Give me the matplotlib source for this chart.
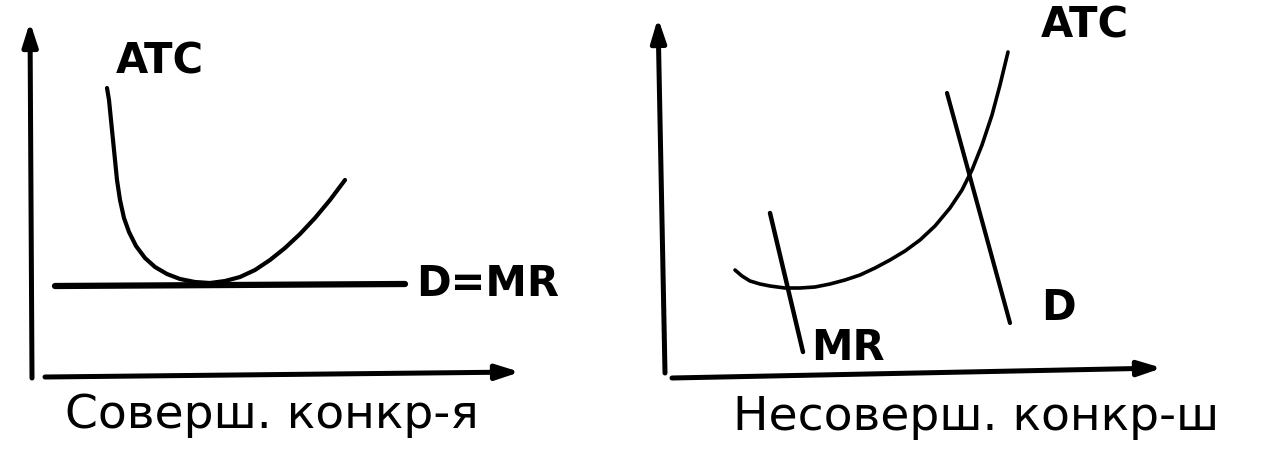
import matplotlib
matplotlib.use("Agg")
import matplotlib.pyplot as plt

# ---- data (pixel-space coordinates of the drawing) ----
# Left panel: perfect competition
left_atc_x = [107, 109, 111, 113, 115, 117, 120, 124, 129, 136, 145, 155, 167, 180, 195,
              210, 225, 240, 255, 270, 285, 300, 315, 330, 345]
left_atc_y = [88, 100, 120, 140, 160, 180, 200, 218, 232, 246, 258, 267, 274, 279, 282,
              283, 281, 277, 270, 260, 248, 234, 218, 200, 180]
left_dmr_x = [55, 405]
left_dmr_y = [286, 284]
left_yaxis = [(32, 378), (30, 22)]
left_xaxis = [(45, 377), (520, 372)]

# Right panel: imperfect competition
right_atc_x = [735, 742, 750, 760, 770, 785, 800, 815, 830, 845, 860, 875, 890, 905,
               920, 935, 950, 962, 972, 982, 992, 1000, 1008]
right_atc_y = [270, 276, 281, 284, 286, 288, 288, 287, 284, 280, 275, 268, 260, 251,
               240, 226, 208, 190, 170, 145, 115, 85, 52]
right_mr_x = [770, 803]
right_mr_y = [213, 352]
right_d_x = [947, 1010]
right_d_y = [93, 323]
right_yaxis = [(665, 373), (658, 18)]
right_xaxis = [(672, 378), (1162, 368)]

# labels: (text, x, y)
labels = [
    ("ATC", 160, 62),
    ("D=MR", 488, 284),
    ("ATC", 1085, 25),
    ("MR", 848, 348),
    ("D", 1058, 308),
]
captions = [
    ("Соверш. конкр-я", 65, 415),
    ("Несоверш. конкр-ш", 733, 418),
]

fig = plt.figure(figsize=(12.72, 4.59), dpi=100)
ax = fig.add_axes([0, 0, 1, 1])
ax.set_xlim(0, 1272)
ax.set_ylim(459, 0)
ax.axis("off")

ink = "black"

def arrow(p0, p1):
    ax.annotate("", xy=p1, xytext=p0,
                arrowprops=dict(arrowstyle="-|>,head_length=1.4,head_width=0.45",
                                lw=3.6, color=ink, shrinkA=0, shrinkB=0))

arrow(*left_yaxis)
arrow(*left_xaxis)
arrow(*right_yaxis)
arrow(*right_xaxis)

ax.plot(left_atc_x, left_atc_y, color=ink, lw=3.0, solid_capstyle="round", solid_joinstyle="round")
ax.plot(left_dmr_x, left_dmr_y, color=ink, lw=4.5, solid_capstyle="round")
ax.plot(right_atc_x, right_atc_y, color=ink, lw=2.6, solid_capstyle="round", solid_joinstyle="round")
ax.plot(right_mr_x, right_mr_y, color=ink, lw=3.2, solid_capstyle="round")
ax.plot(right_d_x, right_d_y, color=ink, lw=3.0, solid_capstyle="round")

for t, x, y in labels:
    ax.text(x, y, t, ha="center", va="center", fontsize=30, color=ink,
            fontweight="bold", family="DejaVu Sans")

for t, x, y in captions:
    ax.text(x, y, t, ha="left", va="center", fontsize=34, color=ink,
            family="DejaVu Sans")

fig.savefig("out.png", dpi=100, facecolor="white")
